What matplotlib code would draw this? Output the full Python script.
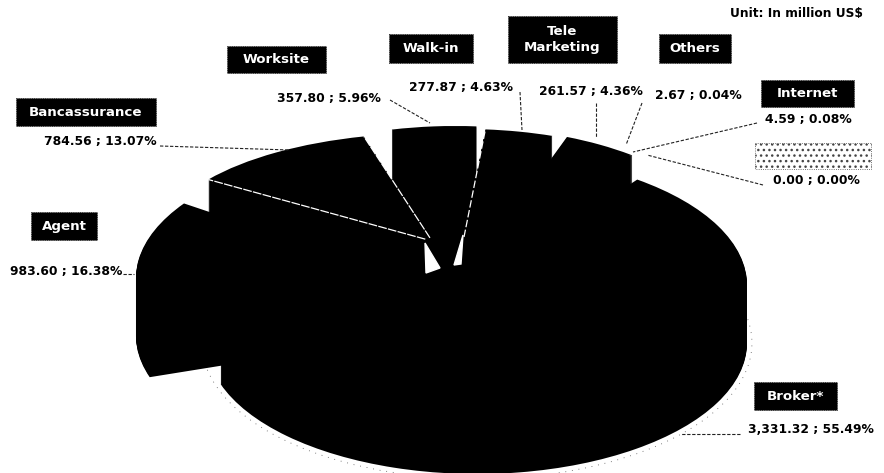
import numpy as np
import matplotlib
matplotlib.use("Agg")
import matplotlib.pyplot as plt
from matplotlib.patches import Wedge, Rectangle, Arc, Ellipse
from matplotlib.transforms import Affine2D

# channel values, clockwise from the front slice
channels = ["Broker*", "Agent", "Bancassurance", "Worksite", "Walk-in",
            "Tele\nMarketing", "Others", "Internet", ""]
premiums = [3331.32, 983.60, 784.56, 357.80, 277.87, 261.57, 2.67, 4.59, 0.00]
shares = [55.49, 16.38, 13.07, 5.96, 4.63, 4.36, 0.04, 0.08, 0.00]
value_labels = ["3,331.32 ; 55.49%", "983.60 ; 16.38%", "784.56 ; 13.07%",
                "357.80 ; 5.96%", "277.87 ; 4.63%", "261.57 ; 4.36%",
                "2.67 ; 0.04%", "4.59 ; 0.08%", "0.00 ; 0.00%"]

# slice placement in pixels: centre x, centre y, x radius, y radius
slice_geom = [(477, 285, 270, 131), (406, 278, 270, 131), (432, 241, 272, 108),
              (455, 238, 252, 112), (464, 237, 251, 108), (472, 268, 270, 140),
              (472, 268, 270, 140), (472, 268, 270, 140), (472, 268, 270, 140)]
draw_order = [5, 6, 7, 8, 4, 3, 1, 0, 2]

# label boxes as x0, y0, x1, y1
box_rects = [(754, 382, 837, 410), (31, 212, 97, 240), (16, 98, 156, 126),
             (227, 46, 326, 73), (389, 34, 473, 63), (508, 16, 617, 63),
             (659, 34, 731, 63), (761, 80, 854, 107), (755, 143, 871, 169)]
value_pos = [(811, 429), (66, 271), (100, 141), (329, 98), (461, 88),
             (591, 92), (698, 95), (808, 119), (816, 180)]
leaders = [((740, 434), (680, 434)), ((123, 274), (134, 274)), ((160, 146), (290, 150)),
           ((390, 100), (430, 123)), ((520, 92), (522, 130)), ((596, 103), (596, 138)),
           ((642, 103), (626, 145)), ((757, 123), (633, 152)), ((763, 185), (647, 155))]
centre_gaps = [[(425, 243), (440, 268), (426, 273)], [(463, 235), (461, 264), (454, 265)]]

START_ANGLE = 53.6
DEPTH = 58


def screen_angle(theta):
    # perspective widens the front of the pie and squeezes the back
    return theta - 8 * (1 - np.cos(np.radians(theta - START_ANGLE)))


def rim_point(theta, geom):
    cx, cy, rx, ry = geom
    t = np.radians(theta)
    return cx + rx * np.cos(t), cy - ry * np.sin(t)


fig = plt.figure(figsize=(8.84, 4.73), dpi=100)
ax = fig.add_axes([0, 0, 1, 1])
ax.set_xlim(0, 884)
ax.set_ylim(473, 0)
ax.axis("off")

total = sum(premiums)
edges = START_ANGLE - np.cumsum([0] + premiums) / total * 360
angles = [(screen_angle(edges[i + 1]), screen_angle(edges[i])) for i in range(len(premiums))]

# soft speckled shadow under the front rim
cx, cy, rx, ry = slice_geom[0]
ax.add_patch(Arc((cx, cy + DEPTH), 2 * rx + 10, 2 * ry + 10, theta1=-5, theta2=175,
                 lw=0.6, ls=(0, (1, 7)), color="#555555", zorder=1))

for z, i in enumerate(draw_order):
    cx, cy, rx, ry = slice_geom[i]
    t1, t2 = angles[i]
    for d in range(DEPTH + 1):
        tf = Affine2D().scale(rx, -ry).translate(cx, cy + d) + ax.transData
        ax.add_patch(Wedge((0, 0), 1, t1, t2, transform=tf, fc="black", ec="none", zorder=2 + z))

# the walls close up behind the slices' tips
ax.add_patch(Ellipse((440, 275), 130, 90, fc="black", ec="none", zorder=15))

# thin white seams where the slices part
seam_z = 20
for i, theta in [(2, angles[2][0]), (2, angles[2][1])]:
    apex = slice_geom[i][:2]
    p = rim_point(theta, slice_geom[i])
    end = np.array(p) + (np.array(apex) - np.array(p)) * 0.97
    ax.plot([end[0], p[0]], [end[1], p[1]], color="white", lw=0.9, ls=(0, (7, 1)), zorder=seam_z)
apex = slice_geom[4][:2]
p = rim_point(angles[4][1], slice_geom[4])
ax.plot([apex[0], p[0]], [apex[1], p[1]], color="white", lw=0.9, ls=(0, (6, 2)), zorder=seam_z)

for tri in centre_gaps:
    ax.fill(*zip(*tri), color="white", zorder=seam_z)

for start, end in leaders:
    ax.plot([start[0], end[0]], [start[1], end[1]], color="#222222", lw=0.8,
            ls=(0, (3, 1.5)), zorder=seam_z + 1)

for name, (x0, y0, x1, y1) in zip(channels, box_rects):
    if name:
        ax.add_patch(Rectangle((x0, y0), x1 - x0, y1 - y0, fc="black", ec="#222222",
                               lw=0.6, ls=":", zorder=30))
        ax.text((x0 + x1) / 2, (y0 + y1) / 2, name, color="white", fontsize=9.6, fontweight="bold",
                ha="center", va="center", linespacing=1.25, zorder=31)
    else:
        ax.add_patch(Rectangle((x0, y0), x1 - x0, y1 - y0, fc="white", ec="#444444",
                               lw=0.6, ls=":", hatch="...", zorder=30))

for text, (x, y) in zip(value_labels, value_pos):
    ax.text(x, y, text, color="black", fontsize=8.9, fontweight="bold",
            ha="center", va="center", zorder=31)

ax.text(863, 14, "Unit: In million US$", color="black", fontsize=8.8, fontweight="bold",
        ha="right", va="center", zorder=31)

fig.savefig("out.png", dpi=100, facecolor="white")
